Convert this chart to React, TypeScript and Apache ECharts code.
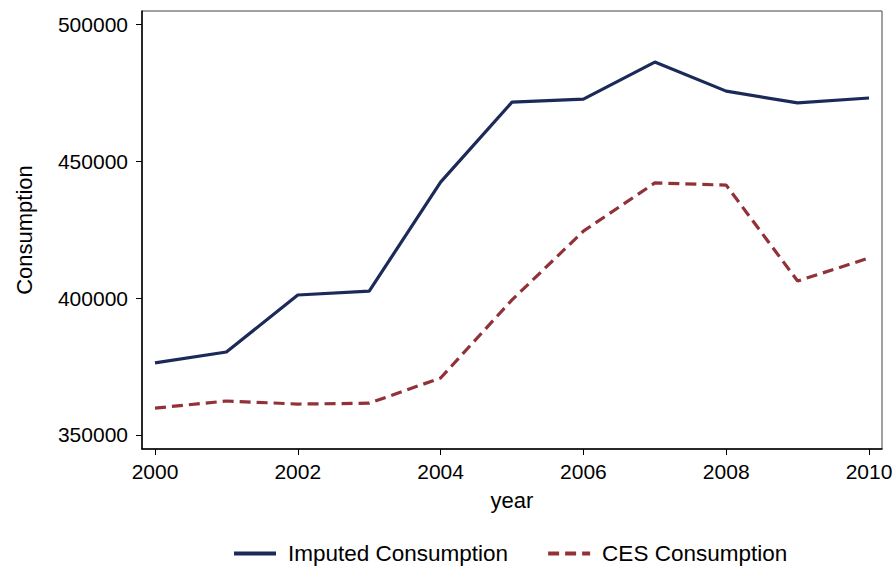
import React, { useEffect, useRef } from "react";
import * as echarts from "echarts";

const years = [2000, 2001, 2002, 2003, 2004, 2005, 2006, 2007, 2008, 2009, 2010];
const imputed = [376300, 380300, 401100, 402500, 442300, 471500, 472600, 486100, 475500, 471200, 473000];
const ces = [359800, 362400, 361300, 361600, 370800, 399300, 424400, 442000, 441200, 406200, 414600];
const xTicks = [2000, 2002, 2004, 2006, 2008, 2010];
const yTicks = [350000, 400000, 450000, 500000];

const FONT = "'Liberation Sans', Arial, Helvetica, sans-serif";

export default function App() {
  const ref = useRef<HTMLDivElement>(null);
  useEffect(() => {
    if (!ref.current) return;
    const chart = echarts.init(ref.current, undefined, { renderer: "svg" });
    chart.setOption({
      animation: false,
      backgroundColor: "#ffffff",
      textStyle: { fontFamily: FONT },
      grid: {
        left: 142,
        top: 11,
        width: 740,
        height: 438,
        show: true,
        borderColor: "#444",
        borderWidth: 1,
        backgroundColor: "#ffffff",
      },
      legend: {
        top: 542,
        left: 232,
        itemWidth: 42,
        itemHeight: 14,
        itemGap: 38,
        padding: 0,
        itemStyle: { opacity: 0 },
        lineStyle: { width: 4 },
        textStyle: { fontSize: 22.5, color: "#000", fontFamily: FONT, padding: [0, 0, 0, 7] },
        data: ["Imputed Consumption", "CES Consumption"],
      },
      xAxis: {
        type: "value",
        min: 1999.818,
        max: 2010.182,
        name: "year",
        nameLocation: "middle",
        nameGap: 40,
        nameTextStyle: { fontSize: 22, color: "#000", fontFamily: FONT },
        axisLine: { show: true, lineStyle: { color: "#000", width: 1.5 } },
        axisTick: { show: true, length: 6, lineStyle: { color: "#000" }, customValues: xTicks },
        axisLabel: { fontSize: 21, color: "#000", margin: 12, customValues: xTicks, formatter: (v: number) => String(v) },
        splitLine: { show: false },
      },
      yAxis: {
        type: "value",
        min: 344890,
        max: 504750,
        name: "Consumption",
        nameLocation: "middle",
        nameGap: 107,
        nameRotate: 90,
        nameTextStyle: { fontSize: 22, color: "#000", fontFamily: FONT },
        axisLine: { show: true, lineStyle: { color: "#000", width: 1.5 } },
        axisTick: { show: true, length: 6, lineStyle: { color: "#000" }, customValues: yTicks },
        axisLabel: { fontSize: 21, color: "#000", margin: 14, customValues: yTicks, formatter: (v: number) => String(v) },
        splitLine: { show: false },
      },
      series: [
        {
          name: "Imputed Consumption",
          type: "line",
          data: years.map((y, i) => [y, imputed[i]]),
          symbol: "none",
          lineStyle: { color: "#1b2a58", width: 3.2 },
          itemStyle: { color: "#1b2a58" },
        },
        {
          name: "CES Consumption",
          type: "line",
          data: years.map((y, i) => [y, ces[i]]),
          symbol: "none",
          lineStyle: { color: "#913239", width: 3.2, type: [11, 6] },
          itemStyle: { color: "#913239" },
        },
      ],
    });
    return () => chart.dispose();
  }, []);
  return (
    <div
      ref={ref}
      style={{ position: "fixed", left: 0, top: 0, width: 896, height: 569, background: "#fff" }}
    />
  );
}
